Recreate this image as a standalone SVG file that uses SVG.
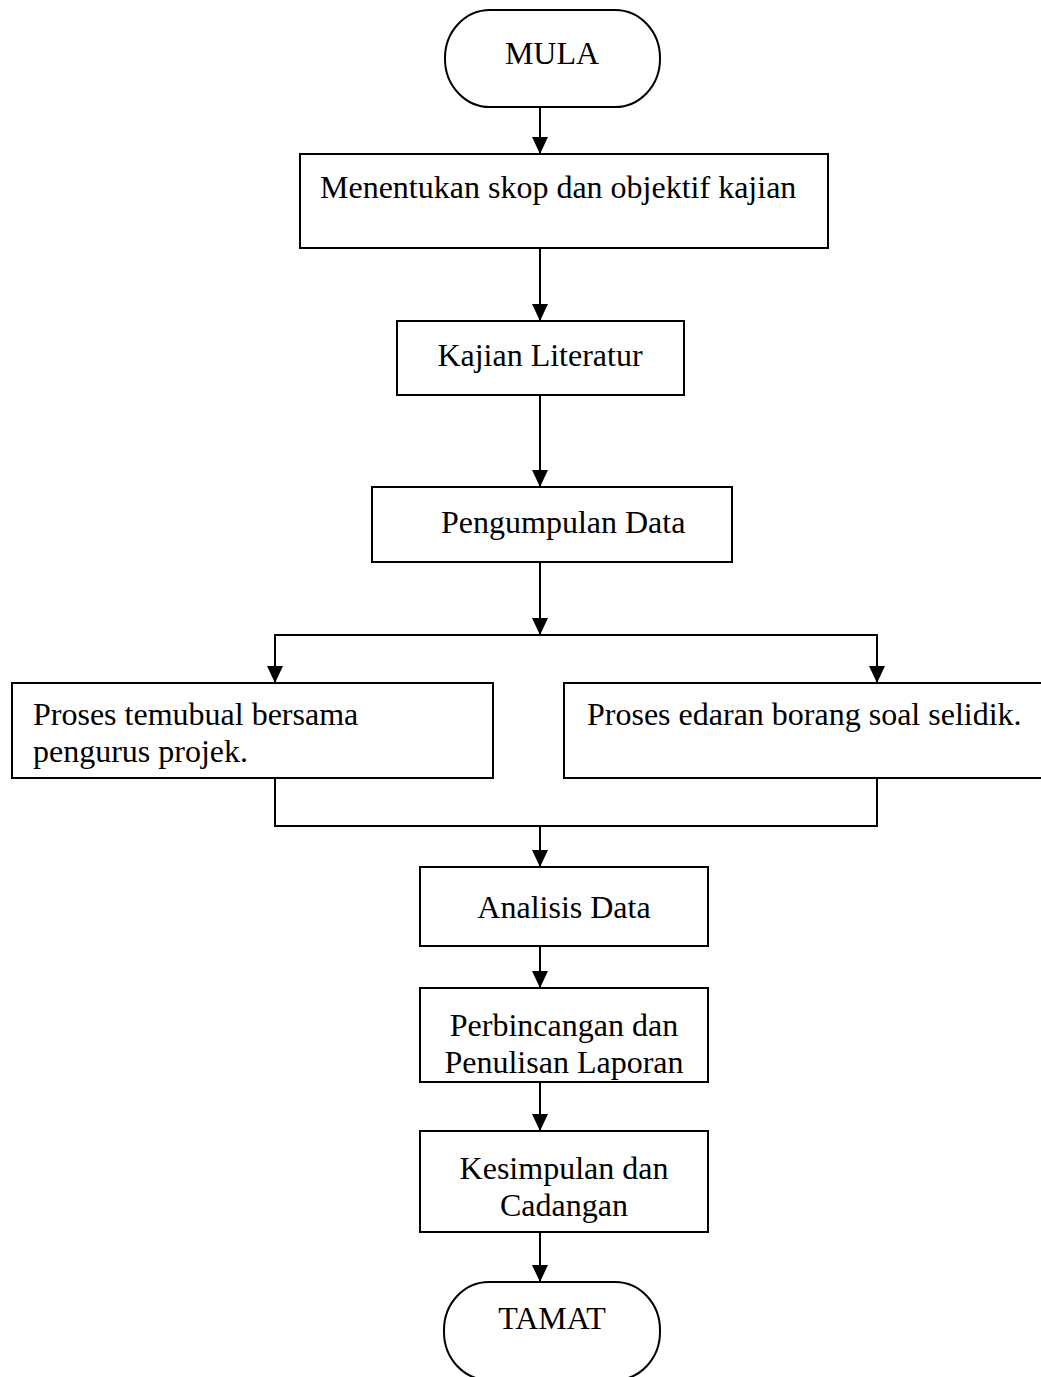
<svg xmlns="http://www.w3.org/2000/svg" width="1041" height="1377" viewBox="0 0 1041 1377">
<defs>
<marker id="arr" markerWidth="17" markerHeight="16" refX="17" refY="8" orient="auto" markerUnits="userSpaceOnUse">
<path d="M0,0 L17,8 L0,16 Z" fill="#000"/>
</marker>
<style>
.box{fill:#fff;stroke:#000;stroke-width:2}
.ln{fill:none;stroke:#000;stroke-width:2}
.t{font-family:"Liberation Serif","Times New Roman",serif;font-size:32px;fill:#000}
.c{text-anchor:middle}
</style>
</defs>
<rect width="1041" height="1377" fill="#fff"/>
<g id="connectors">
<line class="ln" x1="540" y1="107" x2="540" y2="154" marker-end="url(#arr)"/>
<line class="ln" x1="540" y1="248" x2="540" y2="321" marker-end="url(#arr)"/>
<line class="ln" x1="540" y1="395" x2="540" y2="487" marker-end="url(#arr)"/>
<line class="ln" x1="540" y1="562" x2="540" y2="635" marker-end="url(#arr)"/>
<polyline class="ln" points="275,683 275,635 877,635 877,683"/>
<line class="ln" x1="275" y1="635" x2="275" y2="683" marker-end="url(#arr)"/>
<line class="ln" x1="877" y1="635" x2="877" y2="683" marker-end="url(#arr)"/>
<polyline class="ln" points="275,778 275,826 877,826 877,778"/>
<line class="ln" x1="540" y1="826" x2="540" y2="867" marker-end="url(#arr)"/>
<line class="ln" x1="540" y1="946" x2="540" y2="988" marker-end="url(#arr)"/>
<line class="ln" x1="540" y1="1082" x2="540" y2="1131" marker-end="url(#arr)"/>
<line class="ln" x1="540" y1="1232" x2="540" y2="1282" marker-end="url(#arr)"/>
</g>
<g id="mula">
<rect class="box" x="445" y="10" width="215" height="97" rx="45" ry="48"/>
<text class="t c" x="552" y="64">MULA</text>
</g>
<g id="skop">
<rect class="box" x="300" y="154" width="528" height="94"/>
<text class="t" x="320" y="198">Menentukan skop dan objektif kajian</text>
</g>
<g id="literatur">
<rect class="box" x="397" y="321" width="287" height="74"/>
<text class="t c" x="540" y="366">Kajian Literatur</text>
</g>
<g id="pengumpulan">
<rect class="box" x="372" y="487" width="360" height="75"/>
<text class="t" x="441" y="533">Pengumpulan Data</text>
</g>
<g id="temubual">
<rect class="box" x="12" y="683" width="481" height="95"/>
<text class="t" x="33" y="725">Proses temubual bersama</text>
<text class="t" x="33" y="762">pengurus projek.</text>
</g>
<g id="edaran">
<rect class="box" x="564" y="683" width="486" height="95"/>
<text class="t" x="587" y="725">Proses edaran borang soal selidik.</text>
</g>
<g id="analisis">
<rect class="box" x="420" y="867" width="288" height="79"/>
<text class="t c" x="564" y="918">Analisis Data</text>
</g>
<g id="perbincangan">
<rect class="box" x="420" y="988" width="288" height="94"/>
<text class="t c" x="564" y="1036">Perbincangan dan</text>
<text class="t c" x="564" y="1073">Penulisan Laporan</text>
</g>
<g id="kesimpulan">
<rect class="box" x="420" y="1131" width="288" height="101"/>
<text class="t c" x="564" y="1179">Kesimpulan dan</text>
<text class="t c" x="564" y="1216">Cadangan</text>
</g>
<g id="tamat">
<rect class="box" x="444" y="1282" width="216" height="98" rx="45" ry="48"/>
<text class="t c" x="552" y="1329">TAMAT</text>
</g>
</svg>
